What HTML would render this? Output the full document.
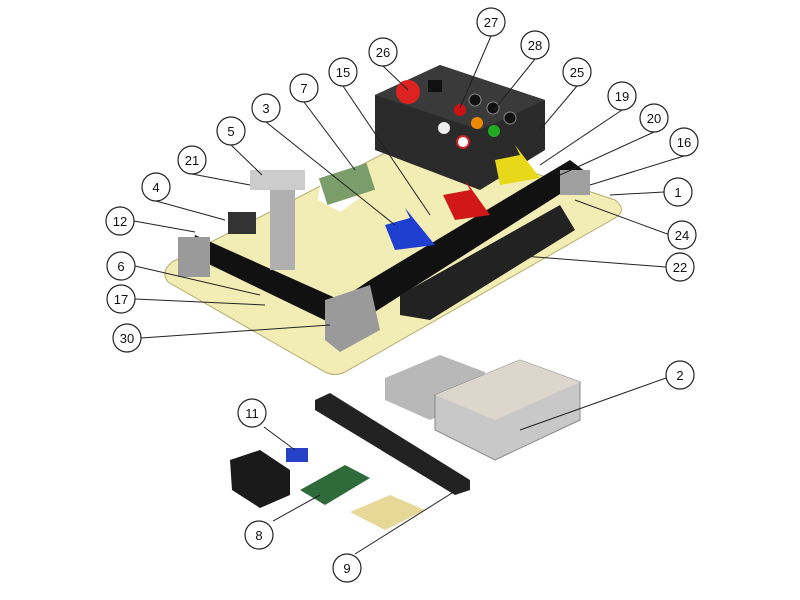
<!DOCTYPE html><html><head><style>body{margin:0;background:#fff}svg{display:block}text{font-family:"Liberation Sans",sans-serif;font-size:13px;text-anchor:middle}</style></head><body>
<svg width="800" height="600" viewBox="0 0 800 600">
<!-- plate -->
<path d="M172,262 L420,135 L615,200 Q628,210 615,218 L345,372 Q335,377 325,372 L168,282 Q160,272 172,262Z" fill="#f2edb5" stroke="#b3ad70"/>
<path d="M320,185 L360,198 L340,212 L318,200Z" fill="#fff"/>
<!-- control box -->
<path d="M375,95 L440,65 L545,100 L545,150 L480,190 L375,150Z" fill="#2a2a2a"/>
<path d="M375,95 L440,65 L545,100 L480,130Z" fill="#3a3a3a"/>
<circle cx="408" cy="92" r="12" fill="#d22"/><rect x="428" y="80" width="14" height="12" fill="#111"/>
<circle cx="460" cy="110" r="6" fill="#c11"/><circle cx="477" cy="123" r="6" fill="#e80"/><circle cx="494" cy="131" r="6" fill="#2a2"/>
<circle cx="444" cy="128" r="6" fill="#eee"/><circle cx="463" cy="142" r="6" fill="#fff" stroke="#c22" stroke-width="2"/>
<circle cx="475" cy="100" r="6" fill="#111" stroke="#888"/><circle cx="493" cy="108" r="6" fill="#111" stroke="#888"/><circle cx="510" cy="118" r="6" fill="#111" stroke="#888"/>
<!-- belts -->
<path d="M195,235 L340,300 L370,280 L570,160 L590,175 L370,315 L345,330 L190,255Z" fill="#111"/>
<path d="M400,295 L560,205 L575,230 L430,320 L400,315Z" fill="#222"/>
<rect x="178" y="237" width="32" height="40" fill="#9a9a9a"/>
<path d="M325,300 L370,285 L380,330 L340,352 L325,340Z" fill="#9a9a9a"/>
<rect x="560" y="170" width="30" height="25" fill="#a0a0a0"/>
<rect x="270" y="180" width="25" height="90" fill="#b0b0b0"/><rect x="250" y="170" width="55" height="20" fill="#ccc"/>
<rect x="228" y="212" width="28" height="22" fill="#333"/>
<rect x="322" y="170" width="50" height="28" fill="#7a9d6a" transform="rotate(-18 347 184)"/>
<!-- arrows -->
<path d="M385,225 L410,218 L405,208 L435,245 L395,250Z" fill="#1f3fd0"/>
<path d="M443,195 L470,190 L465,180 L490,215 L455,220Z" fill="#d01818"/>
<path d="M495,160 L520,155 L515,145 L540,178 L500,185Z" fill="#e8d81a"/>
<!-- power supplies -->
<path d="M385,378 L440,355 L485,372 L485,395 L430,420 L385,400Z" fill="#b8b8b8"/>
<path d="M435,395 L520,360 L580,382 L580,420 L495,460 L435,430Z" fill="#c8c8c8" stroke="#888"/>
<path d="M435,395 L520,360 L580,382 L495,420Z" fill="#ddd6cc"/>
<!-- terminal strip -->
<path d="M315,400 L330,393 L470,480 L470,490 L455,495 L315,410Z" fill="#222"/>
<!-- small parts -->
<path d="M230,460 L260,450 L290,470 L290,495 L260,508 L232,490Z" fill="#1a1a1a"/>
<rect x="286" y="448" width="22" height="14" fill="#2441c8"/>
<path d="M300,490 L345,465 L370,478 L325,505Z" fill="#2e6a3a"/>
<path d="M350,512 L390,495 L425,510 L385,530Z" fill="#e8d898"/>
<!-- leader lines -->
<g stroke="#222" stroke-width="1" fill="none">
<path d="M383,66L408,90M491,36L460,108M535,59L494,110M577,86L540,130M343,86L430,215M304,102L355,170M266,122L395,225M622,110L540,165M654,132L560,175M684,156L590,185M231,145L262,175M192,174L250,185M664,192L610,195M156,201L225,220M670,235L575,200M134,221L195,232M666,267L510,255M135,266L260,295M135,299L265,305M141,338L330,325M666,378L520,430M264,427L295,450M273,521L320,495M355,554L460,488"/>
</g>
<g fill="#fff" stroke="#222" stroke-width="1.2">
<circle cx="383" cy="52" r="14"/><circle cx="491" cy="22" r="14"/><circle cx="535" cy="45" r="14"/><circle cx="577" cy="72" r="14"/><circle cx="343" cy="72" r="14"/><circle cx="304" cy="88" r="14"/><circle cx="266" cy="108" r="14"/><circle cx="622" cy="96" r="14"/><circle cx="654" cy="118" r="14"/><circle cx="684" cy="142" r="14"/><circle cx="231" cy="131" r="14"/><circle cx="192" cy="160" r="14"/><circle cx="678" cy="192" r="14"/><circle cx="156" cy="187" r="14"/><circle cx="682" cy="235" r="14"/><circle cx="120" cy="221" r="14"/><circle cx="680" cy="267" r="14"/><circle cx="121" cy="266" r="14"/><circle cx="121" cy="299" r="14"/><circle cx="127" cy="338" r="14"/><circle cx="680" cy="375" r="14"/><circle cx="252" cy="413" r="14"/><circle cx="259" cy="535" r="14"/><circle cx="347" cy="568" r="14"/>
</g>
<g fill="#111">
<text x="383" y="57">26</text><text x="491" y="27">27</text><text x="535" y="50">28</text><text x="577" y="77">25</text><text x="343" y="77">15</text><text x="304" y="93">7</text><text x="266" y="113">3</text><text x="622" y="101">19</text><text x="654" y="123">20</text><text x="684" y="147">16</text><text x="231" y="136">5</text><text x="192" y="165">21</text><text x="678" y="197">1</text><text x="156" y="192">4</text><text x="682" y="240">24</text><text x="120" y="226">12</text><text x="680" y="272">22</text><text x="121" y="271">6</text><text x="121" y="304">17</text><text x="127" y="343">30</text><text x="680" y="380">2</text><text x="252" y="418">11</text><text x="259" y="540">8</text><text x="347" y="573">9</text>
</g>
</svg></body></html>
